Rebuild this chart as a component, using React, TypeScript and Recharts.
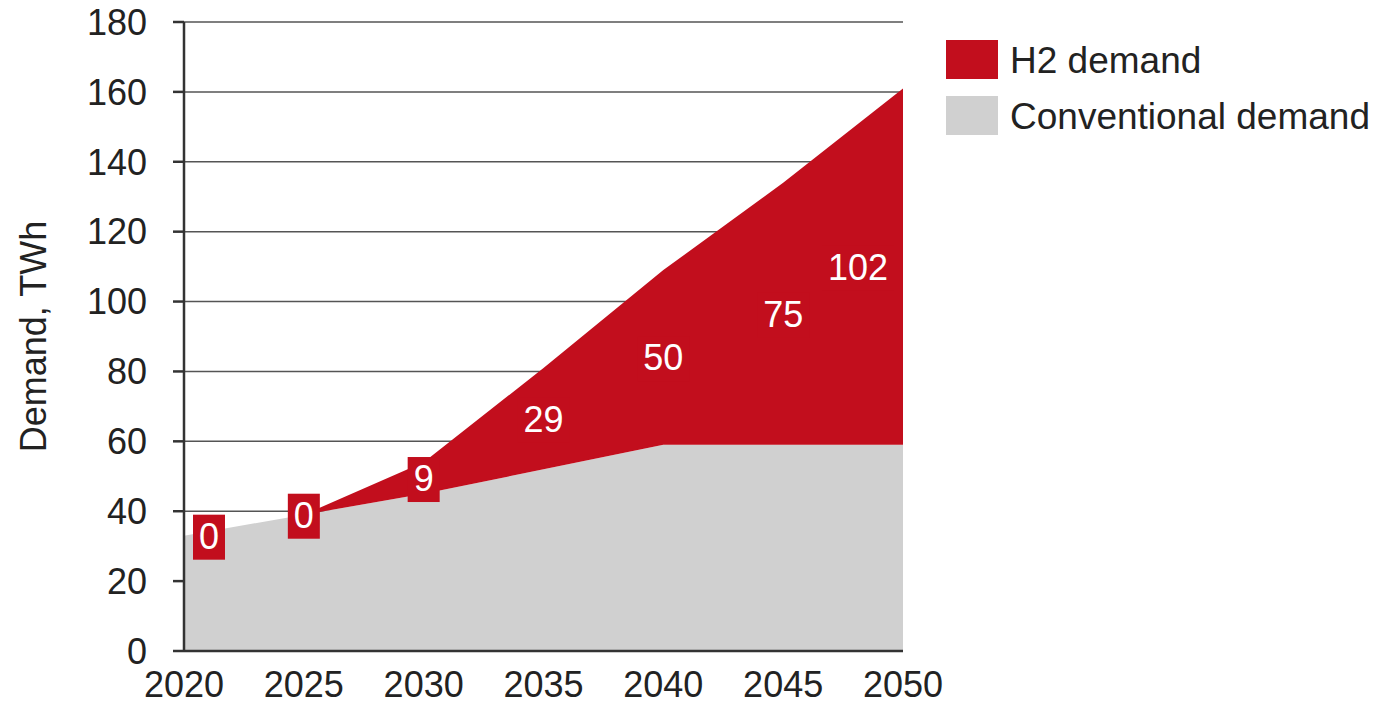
import { Area, AreaChart, CartesianGrid, Legend, ReferenceDot, XAxis, YAxis } from "recharts";

const years = [2020, 2025, 2030, 2035, 2040, 2045, 2050];
const conventionalDemand = [33, 39, 45, 52, 59, 59, 59];
const h2Demand = [0, 0, 9, 29, 50, 75, 102];
const yTicks = [0, 20, 40, 60, 80, 100, 120, 140, 160, 180];

const RED = "#C20E1D";
const GREY = "#D0D0D0";
const FONT = "'Liberation Sans', Arial, sans-serif";

const data = years.map((year, i) => ({
  year,
  conventional: conventionalDemand[i],
  h2: h2Demand[i],
}));

// edge labels are nudged inside the plot so they don't hang over the axes
const labelShift: Record<number, number> = { 2020: 25, 2050: -45 };

function ValueTag({ cx, cy, value }: { cx?: number; cy?: number; value: number }) {
  if (cx == null || cy == null) return null;
  const w = String(value).length * 20 + 12;
  return (
    <g>
      <rect x={cx - w / 2} y={cy - 21} width={w} height={45} fill={RED} />
      <text x={cx} y={cy} dy="0.36em" textAnchor="middle" fill="#fff" fontSize={36} fontFamily={FONT}>
        {value}
      </text>
    </g>
  );
}

function LegendBox() {
  const items = [
    { label: "H2 demand", color: RED },
    { label: "Conventional demand", color: GREY },
  ];
  return (
    <div style={{ fontFamily: FONT, fontSize: 37, color: "#222" }}>
      {items.map((it) => (
        <div key={it.label} style={{ display: "flex", alignItems: "center", height: 56 }}>
          <span style={{ width: 52, height: 39, background: it.color, marginRight: 12, flexShrink: 0 }} />
          <span style={{ whiteSpace: "nowrap", paddingTop: 3 }}>{it.label}</span>
        </div>
      ))}
    </div>
  );
}

export default function App() {
  return (
    <div style={{ position: "absolute", left: 0, top: 0, width: 1378, height: 702, background: "#fff" }}>
      <AreaChart width={1378} height={702} data={data} margin={{ top: 22, right: 475, left: 84, bottom: 0 }}>
        <CartesianGrid vertical={false} stroke="#555" strokeWidth={1.5} />
        <XAxis
          type="number"
          dataKey="year"
          domain={[2020, 2050]}
          ticks={years}
          height={51}
          tickLine={false}
          tickSize={0}
          tickMargin={20}
          axisLine={{ stroke: "#333", strokeWidth: 2.5 }}
          tick={{ fill: "#222", fontSize: 36, fontFamily: FONT }}
        />
        <YAxis
          domain={[0, 180]}
          ticks={yTicks}
          width={100}
          tickSize={11}
          tickMargin={26}
          tickLine={{ stroke: "#333", strokeWidth: 2.5 }}
          axisLine={{ stroke: "#333", strokeWidth: 2.5 }}
          tick={{ fill: "#222", fontSize: 36, fontFamily: FONT }}
          label={{
            value: "Demand, TWh",
            angle: -90,
            position: "insideLeft",
            offset: -51,
            textAnchor: "middle",
            fill: "#222",
            fontSize: 36,
            fontFamily: FONT,
          }}
        />
        <Legend
          content={() => <LegendBox />}
          layout="horizontal"
          verticalAlign="middle"
          align="center"
          wrapperStyle={{ left: 946, top: 31, width: 430 }}
        />
        <Area
          type="linear"
          dataKey="conventional"
          stackId="d"
          stroke="none"
          fill={GREY}
          fillOpacity={1}
          isAnimationActive={false}
        />
        <Area
          type="linear"
          dataKey="h2"
          stackId="d"
          stroke="none"
          fill={RED}
          fillOpacity={1}
          isAnimationActive={false}
        />
        {years.map((year, i) => (
          <ReferenceDot
            key={year}
            x={year}
            y={conventionalDemand[i] + h2Demand[i] / 2}
            r={0}
            ifOverflow="visible"
            shape={(p: { cx?: number; cy?: number }) => (
              <ValueTag cx={(p.cx ?? 0) + (labelShift[year] ?? 0)} cy={p.cy} value={h2Demand[i]} />
            )}
          />
        ))}
      </AreaChart>
    </div>
  );
}
